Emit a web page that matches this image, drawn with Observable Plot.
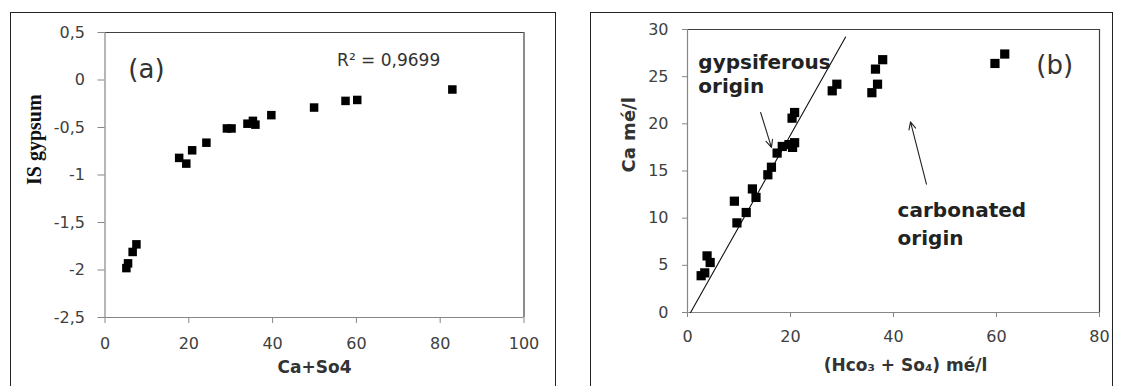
<!DOCTYPE html>
<html>
<head>
<meta charset="utf-8">
<script src="https://cdn.jsdelivr.net/npm/d3@7"></script>
<script src="https://cdn.jsdelivr.net/npm/@observablehq/plot@0.6"></script>
<style>
  body { margin: 0; background: #fff; overflow: hidden; }
  #wrap { position: relative; width: 1123px; height: 386px; overflow: hidden; background: #fff; }
  .panel { position: absolute; top: 0; }
  .box { position: absolute; border: 1.5px solid #222; box-sizing: border-box; pointer-events: none; }
</style>
</head>
<body>
<div id="wrap">
  <div id="a" class="panel" style="left:0px"></div>
  <div id="b" class="panel" style="left:560px"></div>
  <div class="box" style="left:10px; top:12px; width:546px; height:420px"></div>
  <div class="box" style="left:590px; top:12px; width:523px; height:420px"></div>
</div>
<script>
// ---- Panel (a): IS gypsum vs Ca+So4 ----
const aX = [5.1, 5.5, 6.6, 7.5, 17.7, 19.4, 20.8, 24.2, 29.1, 30.2, 34.0, 35.3, 35.9, 39.7, 49.9, 57.4, 60.2, 82.9];
const aY = [-1.98, -1.93, -1.81, -1.73, -0.82, -0.88, -0.74, -0.66, -0.51, -0.51, -0.46, -0.43, -0.47, -0.37, -0.29, -0.22, -0.21, -0.10];
const aXTicks = [0, 20, 40, 60, 80, 100];
const aYTicks = [-2.5, -2, -1.5, -1, -0.5, 0, 0.5];
const aXLabel = "Ca+So4";
const aYLabel = "IS gypsum";
const aTag = "(a)";
const aR2 = "R² = 0,9699";

// ---- Panel (b): Ca vs (HCO3 + SO4) ----
const bX = [2.65, 3.35, 3.8, 4.4, 9.1, 9.6, 11.4, 12.6, 13.3, 15.6, 16.3, 17.4, 18.4, 19.7, 20.4, 20.8, 20.3, 20.8, 28.1, 29.0, 35.8, 36.9, 36.5, 37.9, 59.7, 61.6];
const bY = [3.9, 4.2, 6.0, 5.3, 11.8, 9.5, 10.6, 13.1, 12.2, 14.6, 15.4, 16.9, 17.6, 17.8, 17.5, 18.0, 20.6, 21.2, 23.5, 24.2, 23.3, 24.2, 25.8, 26.8, 26.4, 27.4];
const bLineX = [0.6, 30.7];
const bLineY = [0, 29.2];
const bXTicks = [0, 20, 40, 60, 80];
const bYTicks = [0, 5, 10, 15, 20, 25, 30];
const bXLabel = "(Hco₃ + So₄) mé/l";
const bYLabel = "Ca mé/l";
const bTag = "(b)";
const bNoteText = ["gypsiferous", "origin", "carbonated", "origin"];
const bNoteX = [2.1, 2.1, 40.8, 40.8];
const bNoteY = [26.5, 23.9, 10.8, 7.85];
const bArrowX1 = [14.2, 46.4];
const bArrowY1 = [21.2, 13.6];
const bArrowX2 = [16.3, 43.3];
const bArrowY2 = [17.5, 20.2];

const comma = d => String(d).replace(".", ",");
const axisGray = "#868686";
const frameDark = "#404040";
const textGray = "#404040";

const aData = aX.map((x, i) => ({x, y: aY[i]}));
const plotA = Plot.plot({
  width: 560, height: 386,
  marginLeft: 104.5, marginRight: 36.5, marginTop: 32, marginBottom: 69,
  style: {fontFamily: "DejaVu Sans", fontSize: "16px", background: "transparent", overflow: "visible"},
  x: {domain: [0, 100]},
  y: {domain: [-2.5, 0.5]},
  marks: [
    Plot.ruleY([0.5], {stroke: frameDark, strokeWidth: 1.2}),
    Plot.ruleX([100], {stroke: frameDark, strokeWidth: 1.2}),
    Plot.axisX(aXTicks, {tickSize: 6, tickPadding: 14, stroke: axisGray, fill: textGray, label: null, fontSize: 16}),
    Plot.axisY(aYTicks, {tickSize: 7, tickPadding: 13, tickFormat: comma, stroke: axisGray, fill: textGray, label: null, fontSize: 16}),
    Plot.ruleX([0], {stroke: axisGray, strokeWidth: 1.2}),
    Plot.ruleY([-2.5], {stroke: axisGray, strokeWidth: 1.2}),
    Plot.dot(aData, {x: "x", y: "y", symbol: "square", r: 4.8, fill: "black", stroke: "none"}),
    Plot.text([aTag], {text: d => d, x: 9.9, y: 0.11, fontSize: 26, fill: "#333", fontFamily: "DejaVu Sans"}),
    Plot.text([aR2], {text: d => d, x: 67.7, y: 0.205, fontSize: 17, fill: "#333", fontFamily: "DejaVu Sans"}),
    Plot.text([aYLabel], {text: d => d, frameAnchor: "left", rotate: -90, dx: -70, dy: 10, fontSize: 20, fontWeight: "bold", fontFamily: "Liberation Serif", fill: "#111"}),
    Plot.text([aXLabel], {text: d => d, frameAnchor: "bottom", dy: 55.5, fontSize: 17, fontWeight: "bold", fontFamily: "DejaVu Sans", fill: "#333"})
  ]
});
document.getElementById("a").append(plotA);

const bData = bX.map((x, i) => ({x, y: bY[i]}));
const bLine = bLineX.map((x, i) => ({x, y: bLineY[i]}));
const bNotes = bNoteText.map((t, i) => ({t, x: bNoteX[i], y: bNoteY[i]}));
const bArrows = bArrowX1.map((x1, i) => ({x1, y1: bArrowY1[i], x2: bArrowX2[i], y2: bArrowY2[i]}));
const plotB = Plot.plot({
  width: 563, height: 386,
  marginLeft: 127, marginRight: 24, marginTop: 29, marginBottom: 74,
  style: {fontFamily: "DejaVu Sans", fontSize: "16px", background: "transparent", overflow: "visible"},
  x: {domain: [0, 80]},
  y: {domain: [0, 30]},
  marks: [
    Plot.ruleY([30], {stroke: frameDark, strokeWidth: 1.2}),
    Plot.ruleX([80], {stroke: frameDark, strokeWidth: 1.2}),
    Plot.axisX(bXTicks, {tickSize: 5, tickPadding: 13, stroke: axisGray, fill: textGray, label: null, fontSize: 16}),
    Plot.axisY(bYTicks, {tickSize: 5, tickPadding: 14, stroke: axisGray, fill: textGray, label: null, fontSize: 16}),
    Plot.ruleX([0], {stroke: axisGray, strokeWidth: 1.2}),
    Plot.ruleY([0], {stroke: axisGray, strokeWidth: 1.2}),
    Plot.line(bLine, {x: "x", y: "y", stroke: "#111", strokeWidth: 1.1}),
    Plot.dot(bData, {x: "x", y: "y", symbol: "square", r: 5.2, fill: "black", stroke: "none"}),
    Plot.arrow(bArrows, {x1: "x1", y1: "y1", x2: "x2", y2: "y2", stroke: "#222", strokeWidth: 1.1, headLength: 11, headAngle: 50, insetEnd: 0, insetStart: 0}),
    Plot.text(bNotes, {x: "x", y: "y", text: "t", textAnchor: "start", fontSize: 20, fontWeight: "bold", fontFamily: "DejaVu Sans", fill: "#222"}),
    Plot.text([bTag], {text: d => d, x: 71.3, y: 26.2, fontSize: 26, fill: "#333", fontFamily: "DejaVu Sans"}),
    Plot.text([bYLabel], {text: d => d, frameAnchor: "left", rotate: -90, dx: -58, dy: 1.5, fontSize: 18, fontWeight: "bold", fontFamily: "DejaVu Sans", fill: "#333"}),
    Plot.text([bXLabel], {text: d => d, frameAnchor: "bottom", dx: 12, dy: 58, fontSize: 17, fontWeight: "bold", fontFamily: "DejaVu Sans", fill: "#333"})
  ]
});
document.getElementById("b").append(plotB);
</script>
</body>
</html>
